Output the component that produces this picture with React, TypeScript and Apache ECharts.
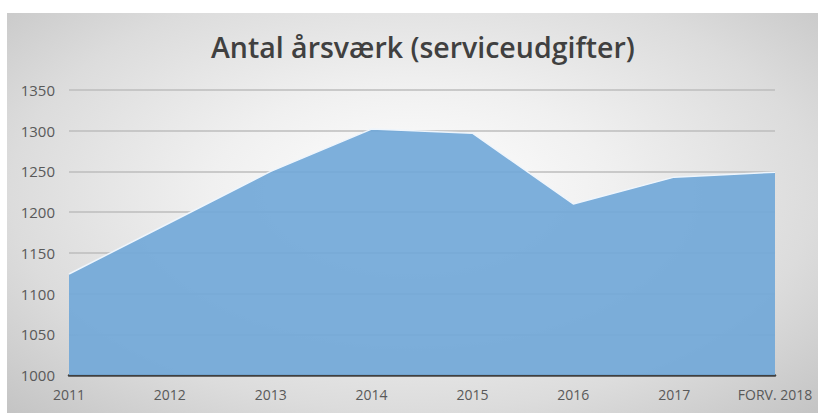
import React, { useEffect, useRef } from "react";
import * as echarts from "echarts";

const categories = ["2011", "2012", "2013", "2014", "2015", "2016", "2017", "FORV. 2018"];
const values = [1124, 1187, 1250, 1302, 1297, 1210, 1243, 1249];
const yMin = 1000;
const yMax = 1350;
const yInterval = 50;
const title = "Antal årsværk (serviceudgifter)";

export default function App() {
  const ref = useRef<HTMLDivElement>(null);
  useEffect(() => {
    if (!ref.current) return;
    const chart = echarts.init(ref.current, null, { renderer: "svg" });
    chart.setOption({
      animation: false,
      title: {
        text: title,
        left: 206,
        top: 27,
        textStyle: {
          fontFamily: "Open Sans",
          fontWeight: 600,
          fontSize: 28.5,
          color: "#404040",
        },
      },
      grid: { left: 69, right: 49, top: 90, bottom: 38, containLabel: false },
      xAxis: {
        type: "category",
        data: categories,
        boundaryGap: false,
        axisTick: { show: false },
        axisLine: { lineStyle: { color: "#404040", width: 2.5 } },
        axisLabel: {
          color: "#595959",
          fontFamily: "Open Sans",
          fontSize: 14,
          margin: 12,
        },
        splitLine: { show: false },
      },
      yAxis: {
        type: "value",
        min: yMin,
        max: yMax,
        interval: yInterval,
        axisLine: { show: false },
        axisTick: { show: false },
        axisLabel: {
          color: "#595959",
          fontFamily: "Open Sans",
          fontSize: 15,
          margin: 14,
          formatter: (v: number) => String(v),
        },
        splitLine: { lineStyle: { color: "#bdbdbd", width: 1.5 } },
      },
      series: [
        {
          type: "line",
          data: values,
          showSymbol: false,
          symbol: "none",
          lineStyle: { color: "#eef5fc", width: 1.5 },
          areaStyle: { color: "#72a8d8", opacity: 0.92 },
          z: 2,
        },
      ],
    });
    return () => chart.dispose();
  }, []);
  return (
    <div style={{ position: "fixed", left: 0, top: 0, width: 824, height: 413, background: "#ffffff" }}>
      <div
        style={{
          position: "absolute",
          left: 7,
          top: 13,
          width: 811,
          height: 400,
          background: "radial-gradient(ellipse at 50% 45%, #ffffff 0%, #f0f0f0 35%, #dcdcdc 70%, #c4c4c4 100%)",
        }}
      />
      <div ref={ref} style={{ position: "absolute", left: 0, top: 0, width: 824, height: 413 }} />
    </div>
  );
}
